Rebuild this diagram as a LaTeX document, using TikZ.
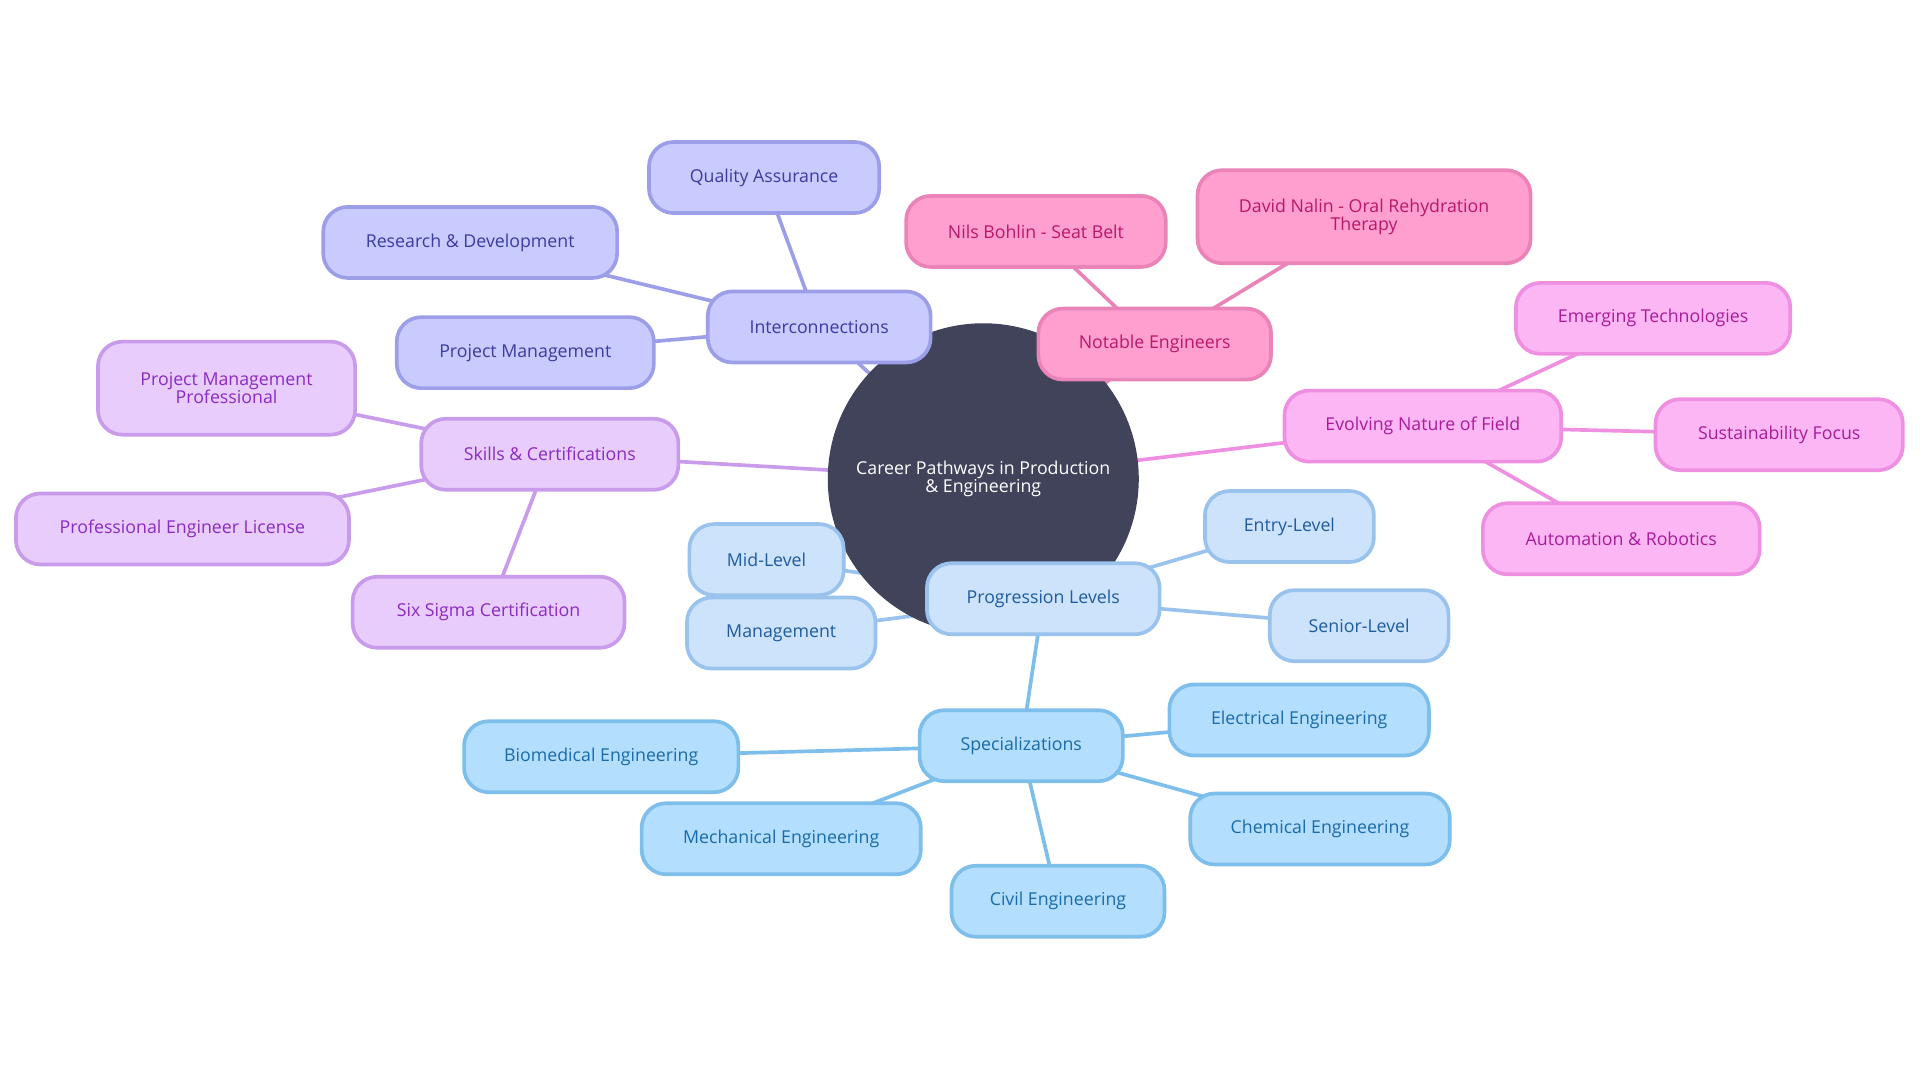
\documentclass[tikz,border=0pt]{standalone}
\usepackage{fontspec}
\setmainfont{Open Sans}
\usetikzlibrary{backgrounds}
\definecolor{hub}{HTML}{404359}
\definecolor{inF}{HTML}{C9CBFE}\definecolor{inD}{HTML}{9C9FE8}\definecolor{inT}{HTML}{3B3BA0}
\definecolor{neF}{HTML}{FF9FCF}\definecolor{neD}{HTML}{E983B8}\definecolor{neT}{HTML}{B8186A}
\definecolor{evF}{HTML}{FCB6F4}\definecolor{evD}{HTML}{EE8FE2}\definecolor{evT}{HTML}{A81C98}
\definecolor{skF}{HTML}{E8CCFC}\definecolor{skD}{HTML}{C99BEB}\definecolor{skT}{HTML}{8A2BC0}
\definecolor{prF}{HTML}{CCE3FB}\definecolor{prD}{HTML}{99C3EC}\definecolor{prT}{HTML}{1F5B9E}
\definecolor{spF}{HTML}{B3DEFD}\definecolor{spD}{HTML}{7EBEEA}\definecolor{spT}{HTML}{1A6BA8}
\tikzset{
  box/.style={draw, line width=3pt, rounded corners=20pt, minimum height=58pt,
    align=center, font=\fontsize{14.5}{15}\selectfont, inner sep=2pt},
  inbox/.style={box, fill=inF, draw=inD, text=inT},
  nebox/.style={box, fill=neF, draw=neD, text=neT},
  evbox/.style={box, fill=evF, draw=evD, text=evT},
  skbox/.style={box, fill=skF, draw=skD, text=skT},
  prbox/.style={box, fill=prF, draw=prD, text=prT},
  spbox/.style={box, fill=spF, draw=spD, text=spT},
  link/.style={line width=3pt}
}
\begin{document}
\begin{tikzpicture}[x=1pt,y=-1pt]
  \useasboundingbox (0,0) rectangle (1568,882);
  % hub
  \node[circle, fill=hub, text=white, minimum size=254pt, align=center,
    font=\fontsize{14.5}{15}\selectfont] (hub) at (803,391) {Career Pathways in Production\\\& Engineering};

  % interconnections
  \node[inbox, minimum width=182pt] (inter) at (669,267) {Interconnections};
  \node[inbox, minimum width=188pt] (qa) at (624,145) {Quality Assurance};
  \node[inbox, minimum width=240pt] (rd) at (384,198) {Research \& Development};
  \node[inbox, minimum width=210pt] (pm) at (429,288) {Project Management};

  % notable engineers
  \node[nebox, minimum width=190pt] (notable) at (943,281) {Notable Engineers};
  \node[nebox, minimum width=212pt] (nils) at (846,189) {Nils Bohlin - Seat Belt};
  \node[nebox, minimum width=272pt, minimum height=76pt] (nalin) at (1114,177) {David Nalin - Oral Rehydration\\Therapy};

  % evolving nature
  \node[evbox, minimum width=226pt] (evolve) at (1162,348) {Evolving Nature of Field};
  \node[evbox, minimum width=224pt] (emerge) at (1350,260) {Emerging Technologies};
  \node[evbox, minimum width=202pt] (sustain) at (1453,355) {Sustainability Focus};
  \node[evbox, minimum width=226pt] (auto) at (1324,440) {Automation \& Robotics};

  % skills
  \node[skbox, minimum width=210pt] (skills) at (449,371) {Skills \& Certifications};
  \node[skbox, minimum width=210pt, minimum height=76pt] (pmp) at (185,317) {Project Management\\Professional};
  \node[skbox, minimum width=272pt] (pel) at (149,432) {Professional Engineer License};
  \node[skbox, minimum width=222pt] (sixsigma) at (399,500) {Six Sigma Certification};

  % progression
  \node[prbox, minimum width=190pt] (prog) at (852,489) {Progression Levels};
  \node[prbox, minimum width=138pt] (entry) at (1053,430) {Entry-Level};
  \node[prbox, minimum width=146pt] (senior) at (1110,511) {Senior-Level};
  \node[prbox, minimum width=126pt] (mid) at (626,457) {Mid-Level};
  \node[prbox, minimum width=154pt] (mgmt) at (638,517) {Management};

  % specializations
  \node[spbox, minimum width=166pt] (spec) at (834,609) {Specializations};
  \node[spbox, minimum width=212pt] (elec) at (1061,588) {Electrical Engineering};
  \node[spbox, minimum width=224pt] (bio) at (491,618) {Biomedical Engineering};
  \node[spbox, minimum width=212pt] (chem) at (1078,677) {Chemical Engineering};
  \node[spbox, minimum width=228pt] (mech) at (638,685) {Mechanical Engineering};
  \node[spbox, minimum width=174pt] (civil) at (864,736) {Civil Engineering};

  % links
  \begin{scope}[on background layer]
    \draw[link, inD] (hub.center) -- (inter.center);
    \foreach \n in {qa,rd,pm} \draw[link, inD] (inter.center) -- (\n.center);
    \draw[link, neD] (hub.center) -- (notable.center);
    \foreach \n in {nils,nalin} \draw[link, neD] (notable.center) -- (\n.center);
    \draw[link, evD] (hub.center) -- (evolve.center);
    \foreach \n in {emerge,sustain,auto} \draw[link, evD] (evolve.center) -- (\n.center);
    \draw[link, skD] (hub.center) -- (skills.center);
    \foreach \n in {pmp,pel,sixsigma} \draw[link, skD] (skills.center) -- (\n.center);
    \draw[link, prD] (hub.center) -- (prog.center);
    \foreach \n in {entry,senior,mid,mgmt} \draw[link, prD] (prog.center) -- (\n.center);
    \draw[link, spD] (prog.center) -- (spec.center);
    \foreach \n in {elec,bio,chem,mech,civil} \draw[link, spD] (spec.center) -- (\n.center);
  \end{scope}
\end{tikzpicture}
\end{document}
